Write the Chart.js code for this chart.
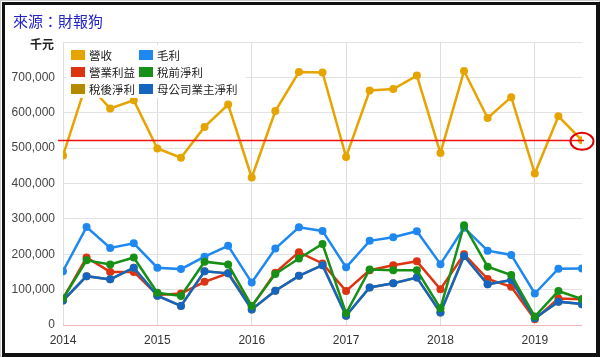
<!DOCTYPE html>
<html>
<head>
<meta charset="utf-8">
<script src="https://cdn.jsdelivr.net/npm/chart.js@4/dist/chart.umd.min.js"></script>
<style>
  html, body { margin: 0; padding: 0; background: #fff; }
  #wrap { position: relative; width: 600px; height: 357px; overflow: hidden; }
  #frame { position: absolute; left: 2px; top: 2px; width: 591px; height: 348px; border: 3px solid #111; border-right-width: 4px; border-bottom-width: 4px; pointer-events: none; }
  #outer { position: absolute; left: 0; top: 0; width: 598px; height: 355px; border: 1px solid #ccc; pointer-events: none; }
  canvas { position: absolute; left: 0; top: 0; }
</style>
</head>
<body>
<div id="wrap">
  <canvas id="c" width="600" height="357"></canvas>
  <div id="outer"></div>
  <div id="frame"></div>
</div>
<script>
// ---- Data (千元) ----
const quarters = ['2014Q1','2014Q2','2014Q3','2014Q4','2015Q1','2015Q2','2015Q3','2015Q4',
  '2016Q1','2016Q2','2016Q3','2016Q4','2017Q1','2017Q2','2017Q3','2017Q4',
  '2018Q1','2018Q2','2018Q3','2018Q4','2019Q1','2019Q2','2019Q3'];
const revenue = [479000,685000,612000,635000,499000,473000,560000,623000,
  417000,605000,715000,714000,475000,663000,667000,705000,
  486000,718000,585000,644000,428000,590000,522000];
const grossProfit = [152000,277000,218000,231000,162000,158000,193000,224000,
  120000,216000,276000,266000,163000,238000,248000,265000,
  172000,275000,210000,198000,89000,159000,160000];
const operatingIncome = [74000,191000,150000,150000,85000,89000,122000,146000,
  52000,148000,206000,174000,96000,155000,169000,180000,
  101000,200000,130000,108000,16000,75000,73000];
const preTaxIncome = [75000,183000,171000,191000,91000,82000,179000,171000,
  54000,144000,188000,229000,33000,157000,155000,155000,
  47000,282000,165000,141000,24000,96000,73000];
const afterTaxIncome = [69000,138000,129000,162000,83000,54000,152000,146000,
  44000,97000,139000,169000,26000,106000,118000,134000,
  35000,195000,115000,127000,19000,66000,59000];
const parentIncome = [69000,138000,129000,162000,83000,54000,152000,146000,
  44000,97000,139000,169000,26000,106000,118000,134000,
  35000,195000,115000,127000,19000,66000,59000];
const seriesNames = ['營收','毛利','營業利益','稅前淨利','稅後淨利','母公司業主淨利'];
const yTicks = [0,100000,200000,300000,400000,500000,600000,700000,800000];
const xYears = [2014,2015,2016,2017,2018,2019];

const colors = {
  '營收': '#E6A400',
  '毛利': '#1E88F0',
  '營業利益': '#DD3311',
  '稅前淨利': '#179017',
  '稅後淨利': '#B58A00',
  '母公司業主淨利': '#1565C0'
};

function qx(q) { return parseInt(q.slice(0,4)) + (parseInt(q.slice(5)) - 1) / 4; }
function pts(arr) { return arr.map((v, i) => ({ x: qx(quarters[i]), y: v })); }

const seriesData = [revenue, grossProfit, operatingIncome, preTaxIncome, afterTaxIncome, parentIncome];
const drawOrder = { '營收': 0, '毛利': 5, '營業利益': 4, '稅前淨利': 1, '稅後淨利': 3, '母公司業主淨利': 2 };

const datasets = seriesNames.map((n, i) => ({
  label: n,
  data: pts(seriesData[i]),
  borderColor: colors[n],
  backgroundColor: colors[n],
  borderWidth: 2.5,
  pointRadius: 4,
  pointHoverRadius: 4,
  pointBorderWidth: 0,
  tension: 0,
  order: drawOrder[n]
}));

const FONT = '"Liberation Sans", Arial, "Noto Sans CJK TC", sans-serif';

const overlay = {
  id: 'overlay',
  beforeDraw(chart) {
    const ctx = chart.ctx;
    ctx.save();
    ctx.fillStyle = '#fff';
    ctx.fillRect(0, 0, chart.width, chart.height);
    ctx.restore();
  },
  afterDatasetsDraw(chart) {
    const ctx = chart.ctx;
    const ys = chart.scales.y, xs = chart.scales.x, ca = chart.chartArea;
    ctx.save();
    // reference line at latest revenue
    const last = revenue[revenue.length - 1];
    const yl = Math.round(ys.getPixelForValue(last)) + 0.5;
    ctx.strokeStyle = '#F01010';
    ctx.lineWidth = 1.5;
    ctx.beginPath();
    ctx.moveTo(ca.left - 5, yl);
    ctx.lineTo(ca.right + 2, yl);
    ctx.stroke();
    // red ellipse around latest point
    const lx = xs.getPixelForValue(qx(quarters[quarters.length - 1]));
    const ly = ys.getPixelForValue(last);
    ctx.beginPath();
    ctx.ellipse(lx, ly + 1, 11.5, 8.5, 0, 0, Math.PI * 2);
    ctx.lineWidth = 2;
    ctx.strokeStyle = '#E00000';
    ctx.stroke();

    // legend
    ctx.fillStyle = 'rgba(255,255,255,0.92)';
    ctx.fillRect(66, 45, 180, 53);
    ctx.font = '11.5px "Noto Sans CJK TC", sans-serif';
    ctx.textBaseline = 'middle';
    const colX = [71, 139];
    const rowY = [55, 72, 89];
    seriesNames.forEach((n, i) => {
      const cx = colX[i % 2], cy = rowY[Math.floor(i / 2)];
      ctx.fillStyle = colors[n];
      ctx.fillRect(cx, cy - 5, 14, 10);
      ctx.fillStyle = '#222';
      ctx.fillText(n, cx + 18, cy + 1);
    });

    // titles
    ctx.font = '15px "Noto Sans CJK TC", sans-serif';
    ctx.fillStyle = '#2424C8';
    ctx.textBaseline = 'middle';
    ctx.fillText('來源：財報狗', 13, 21);
    ctx.font = 'bold 12px "Noto Sans CJK TC", sans-serif';
    ctx.fillStyle = '#222';
    ctx.fillText('千元', 30, 44);
    ctx.restore();
  }
};

new Chart(document.getElementById('c'), {
  type: 'line',
  data: { datasets },
  options: {
    responsive: false,
    animation: false,
    locale: 'en-US',
    layout: { padding: { left: 0, top: 42, right: 18, bottom: 12 } },
    plugins: { legend: { display: false }, tooltip: { enabled: false } },
    scales: {
      x: {
        type: 'linear',
        min: 2014, max: 2019.5,
        afterFit(s) { s.height = 20; },
        afterBuildTicks(s) { s.ticks = xYears.map(v => ({ value: v })); },
        border: { display: false },
        grid: { color: '#DDDDDD', drawTicks: false, lineWidth: 1 },
        ticks: { padding: 8, color: '#333', font: { family: FONT, size: 12 },
          callback: v => String(v), maxRotation: 0 }
      },
      y: {
        min: 0, max: 800000,
        afterFit(s) { s.width = 63; },
        afterBuildTicks(s) { s.ticks = yTicks.map(v => ({ value: v })); },
        border: { display: false },
        grid: { drawTicks: false, lineWidth: 1,
          color: c => c.tick && c.tick.value === 0 ? '#F0B8B8' : '#E2E2E2' },
        ticks: { padding: 8, color: '#444', font: { family: FONT, size: 12 },
          callback: (v, i) => (v === 800000 ? '' : v.toLocaleString('en-US')) }
      }
    }
  },
  plugins: [overlay]
});
</script>
</body>
</html>
